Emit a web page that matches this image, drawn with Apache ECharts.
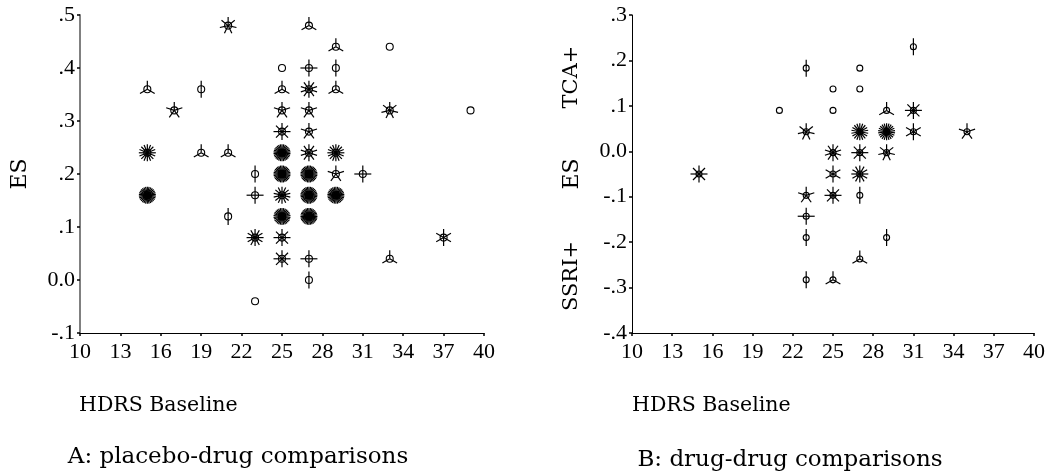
<!DOCTYPE html>
<html>
<head>
<meta charset="utf-8">
<script src="https://cdn.jsdelivr.net/npm/echarts@6/dist/echarts.min.js"></script>
<style>
  html, body { margin: 0; padding: 0; background: #fff; }
  #main { width: 1048px; height: 475px; }
</style>
</head>
<body>
<div id="main"></div>
<script>
// A: placebo-drug comparisons (sunflower plot: one petal per study)
const aHdrs  = [21, 27, 29, 33, 25, 27, 29, 15, 19, 25, 27, 29, 17, 25, 27, 33, 39, 25, 27, 15, 19, 21, 25, 27, 29, 23, 25, 27, 29, 31, 15, 23, 25, 27, 29, 21, 25, 27, 23, 25, 37, 25, 27, 33, 27, 23];
const aEs    = [.48, .48, .44, .44, .40, .40, .40, .36, .36, .36, .36, .36, .32, .32, .32, .32, .32, .28, .28, .24, .24, .24, .24, .24, .24, .20, .20, .20, .20, .20, .16, .16, .16, .16, .16, .12, .12, .12, .08, .08, .08, .04, .04, .04, .00, -.04];
const aCount = [7, 3, 3, 1, 1, 4, 2, 3, 2, 3, 10, 3, 5, 5, 5, 7, 1, 8, 5, 16, 3, 3, 30, 10, 16, 2, 32, 32, 5, 4, 30, 4, 14, 32, 30, 2, 30, 32, 12, 8, 6, 8, 4, 3, 2, 1];

// B: drug-drug comparisons
const bHdrs  = [31, 23, 27, 25, 27, 21, 25, 29, 31, 23, 27, 29, 31, 35, 25, 27, 29, 15, 25, 27, 23, 25, 27, 23, 23, 29, 27, 23, 25];
const bEs    = [.230, .183, .183, .137, .137, .090, .090, .090, .090, .043, .043, .043, .043, .043, -.003, -.003, -.003, -.050, -.050, -.050, -.097, -.097, -.097, -.143, -.190, -.190, -.237, -.283, -.283];
const bCount = [2, 2, 1, 1, 1, 1, 1, 3, 8, 7, 18, 22, 6, 5, 10, 8, 7, 8, 6, 12, 5, 8, 2, 4, 2, 2, 3, 2, 3];

const xMin = 10, xMax = 40, xStep = 3;

const serif = 'DejaVu Serif';
const tickFont = 'Liberation Serif';

function esLabel(v) {
    if (Math.abs(v) < 1e-9) return '0.0';
    let s = v.toFixed(1);
    return s.replace(/^(-?)0\./, '$1.');
}

function zip(xs, ys, ns) {
    return xs.map((x, i) => [x, ys[i], ns[i]]);
}

// one sunflower: open circle plus n petals starting straight up
function sunflower(r, len) {
    return function (params, api) {
        let c = api.coord([api.value(0), api.value(1)]);
        let n = api.value(2);
        let kids = [{
            type: 'circle',
            shape: { cx: c[0], cy: c[1], r: r },
            style: { fill: '#fff', stroke: '#000', lineWidth: 1.1 }
        }];
        if (n > 1) {
            for (let k = 0; k < n; k++) {
                let a = Math.PI / 2 + 2 * Math.PI * k / n;
                kids.push({
                    type: 'line',
                    shape: { x1: c[0], y1: c[1], x2: c[0] + len * Math.cos(a), y2: c[1] - len * Math.sin(a) },
                    style: { stroke: '#000', lineWidth: 1.2 }
                });
            }
        }
        return { type: 'group', children: kids };
    };
}

function xAxisFor(idx) {
    return {
        gridIndex: idx, type: 'value', min: xMin, max: xMax, interval: xStep,
        axisLine: { show: true, onZero: false, lineStyle: { color: '#000', width: 1 } },
        axisTick: { show: true, inside: false, length: 3, lineStyle: { color: '#000', width: 1.5 } },
        axisLabel: { show: true, color: '#000', fontFamily: tickFont, fontSize: 22, margin: 8 },
        splitLine: { show: false }
    };
}

function yAxisFor(idx, min, max, lineColor, lineWidth) {
    return {
        gridIndex: idx, type: 'value', min: min, max: max, interval: 0.1,
        axisLine: { show: true, onZero: false, lineStyle: { color: lineColor, width: lineWidth } },
        axisTick: { show: true, inside: false, length: 3, lineStyle: { color: '#000', width: 1.5 } },
        axisLabel: { show: true, color: '#000', fontFamily: tickFont, fontSize: 22, margin: 5, formatter: esLabel },
        splitLine: { show: false }
    };
}

function label(text, x, y, size, rot, align) {
    return {
        type: 'text', x: x, y: y, rotation: rot || 0,
        style: {
            text: text, fill: '#000', fontFamily: serif, fontSize: size,
            textAlign: align || 'center', textVerticalAlign: 'middle',
            align: align || 'center', verticalAlign: 'middle'
        }
    };
}

let chart = echarts.init(document.getElementById('main'));
chart.setOption({
    animation: false,
    backgroundColor: '#fff',
    grid: [
        { left: 80, top: 15, width: 404, height: 318 },
        { left: 632, top: 15, width: 405, height: 318 }
    ],
    xAxis: [xAxisFor(0), xAxisFor(1)],
    yAxis: [
        yAxisFor(0, -0.1, 0.5, '#808080', 2),
        yAxisFor(1, -0.4, 0.3, '#000', 1)
    ],
    series: [
        {
            type: 'custom', xAxisIndex: 0, yAxisIndex: 0,
            renderItem: sunflower(3.5, 8.5),
            data: zip(aHdrs, aEs, aCount)
        },
        {
            type: 'custom', xAxisIndex: 1, yAxisIndex: 1,
            renderItem: sunflower(3, 8.5),
            data: zip(bHdrs, bEs, bCount)
        }
    ],
    graphic: [
        label('ES', 20, 174, 22, Math.PI / 2),
        label('HDRS Baseline', 79, 406, 20.5, 0, 'left'),
        label('A: placebo-drug comparisons', 238, 457, 23),
        label('TCA+', 572, 77, 21, Math.PI / 2),
        label('ES', 572, 174, 22, Math.PI / 2),
        label('SSRI+', 572, 276, 21, Math.PI / 2),
        label('HDRS Baseline', 632, 406, 20.5, 0, 'left'),
        label('B: drug-drug comparisons', 790, 460, 23)
    ]
});
</script>
</body>
</html>
